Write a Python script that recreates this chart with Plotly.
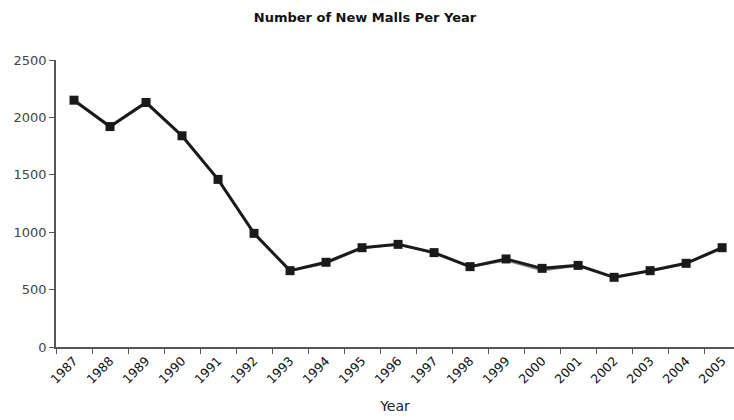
import plotly.graph_objects as go

years = [str(y) for y in range(1987, 2006)]
malls = [2150, 1920, 2130, 1840, 1460, 990, 665, 738, 865, 894, 822, 700, 767, 685, 711, 607, 665, 729, 865]
malls_alt = [2140, 1915, 2120, 1830, 1455, 985, 660, 725, 858, 890, 815, 695, 752, 665, 705, 600, 660, 722, 855]
y_ticks = [0, 500, 1000, 1500, 2000, 2500]

fig = go.Figure()
fig.add_trace(go.Scatter(
    x=years, y=malls_alt, mode="lines",
    line=dict(color="#8a8a8a", width=1.5),
    showlegend=False, hoverinfo="skip"))
fig.add_trace(go.Scatter(
    x=years, y=malls, mode="lines+markers",
    line=dict(color="#1a1a1a", width=3),
    marker=dict(symbol="square", size=9, color="#1a1a1a"),
    showlegend=False))

fig.update_layout(
    width=734, height=420,
    margin=dict(l=56, r=0, t=60, b=73),
    paper_bgcolor="white", plot_bgcolor="white",
    font=dict(family="DejaVu Sans", color="#222"),
    title=dict(text="<b>Number of New Malls Per Year</b>",
               x=365/734, xanchor="center", y=1-17/420, yanchor="middle",
               font=dict(size=13, color="#111")),
    xaxis=dict(
        type="category", range=[-0.5, 18.33],
        tickson="boundaries", ticks="outside", ticklen=5, tickcolor="#555",
        showline=True, linecolor="#555", linewidth=1.5,
        showgrid=False, tickangle=-45,
        tickfont=dict(size=12.5, color="#111"),
        title=dict(text="Year", font=dict(size=14, color="#222"), standoff=16),
    ),
    yaxis=dict(
        range=[0, 2500], tickvals=y_ticks,
        ticks="outside", ticklen=5, tickcolor="#555",
        showline=True, linecolor="#555", linewidth=1.5,
        showgrid=False, zeroline=False,
        tickfont=dict(size=13, color="#444"),
    ),
)

fig.write_html("out.html")
